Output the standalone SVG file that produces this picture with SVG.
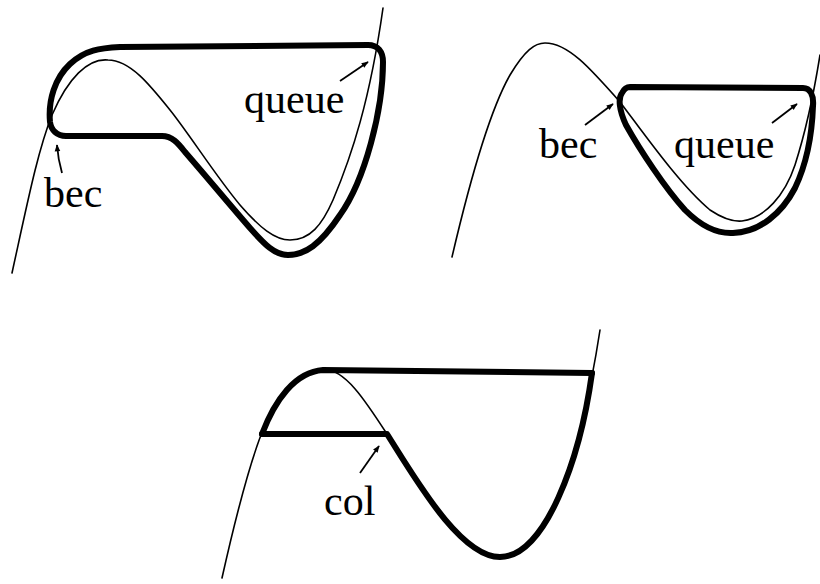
<svg xmlns="http://www.w3.org/2000/svg" width="820" height="584" viewBox="0 0 820 584">
<style>
.thin{fill:none;stroke:#000;stroke-width:1.6;stroke-linecap:round;stroke-linejoin:round}
.thick{fill:none;stroke:#000;stroke-width:6;stroke-linecap:round;stroke-linejoin:round}
.arr{fill:none;stroke:#000;stroke-width:1.8;marker-end:url(#ah)}
.lbl{font-family:"Liberation Serif","Times New Roman",serif;font-size:42px;fill:#000}
</style>
<defs>
<marker id="ah" viewBox="0 0 10 10" refX="9" refY="5" markerWidth="10" markerHeight="7" markerUnits="userSpaceOnUse" orient="auto">
<path d="M0,1 L10,5 L0,9 Z" fill="#000"/>
</marker>
</defs>
<rect width="820" height="584" fill="#fff"/>
<g id="diagram1">
<path class="thin" d="M12,273 C28,200 38,150 52,115 C68,78 88,58 108,60 C130,60 150,85 170,110 C190,135 215,175 240,205 C260,228 275,240 290,240 C310,240 322,225 333,200 C352,155 370,100 383,8"/>
<path class="thick" d="M50,122 C48,100 55,78 70,64 C85,50 100,48 120,47 L368,45 C378,45 383,52 383,62 C383,110 365,180 340,215 C320,245 305,255 288,255 C275,255 265,245 250,228 C230,205 205,175 185,152 C178,143 172,136 162,136 L66,136 C57,136 51,130 50,122 Z"/>
<text class="lbl" x="244" y="113">queue</text>
<text class="lbl" x="44" y="207">bec</text>
</g>
<g id="diagram2">
<path class="thin" d="M452,257 C470,180 490,110 510,75 C525,50 535,43 545,43 C568,43 590,68 620,102 C645,135 680,185 710,210 C722,218 732,222 742,221 C765,218 785,195 795,165 C803,140 812,105 820,55"/>
<path class="thick" d="M630,87 L803,88 C810,88 814,95 813,106 C812,135 806,165 795,188 C782,213 760,232 733,233 C715,234 700,225 685,210 C665,188 640,150 626,125 C619,110 618,98 622,93 C624,89 627,87 630,87 Z"/>
<text class="lbl" x="539" y="158">bec</text>
<text class="lbl" x="674" y="158">queue</text>
</g>
<g id="diagram3">
<path class="thin" d="M222,578 C235,520 250,460 265,425 C280,390 300,370 323,369 C345,369 365,400 387,434 C415,478 460,557 500,557 C545,557 580,460 600,330"/>
<path class="thick" d="M262,434 C275,400 295,372 323,370 L592,373"/>
<path class="thick" d="M262,434 L387,434 C415,478 460,557 500,557 C545,557 580,460 592,373"/>
<text class="lbl" x="324" y="515">col</text>
</g>
<g id="connectors">
<path class="arr" d="M62,173 Q58,159 57,145"/>
<path class="arr" d="M340,81 L368,62"/>
<path class="arr" d="M585,125 L613,104"/>
<path class="arr" d="M772,123 L797,104"/>
<path class="arr" d="M360,473 L379,446"/>
</g>
</svg>
